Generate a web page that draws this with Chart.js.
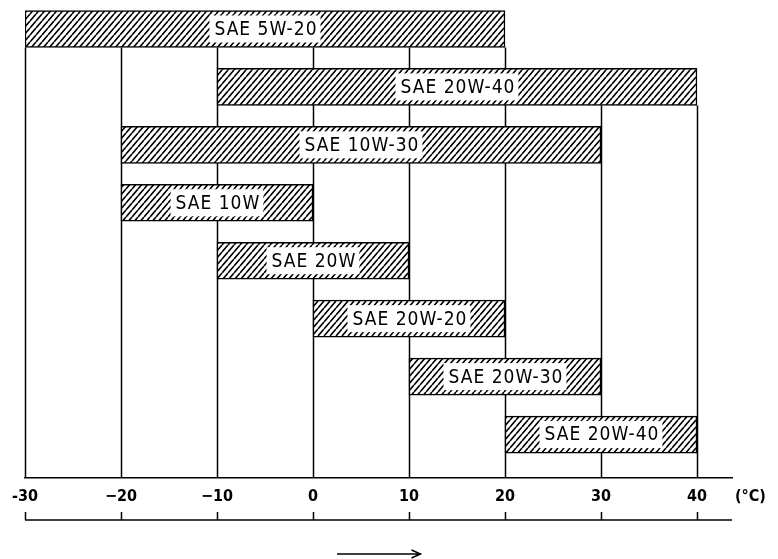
<!DOCTYPE html>
<html>
<head>
<meta charset="utf-8">
<script src="https://cdn.jsdelivr.net/npm/chart.js@4.4.0/dist/chart.umd.min.js"></script>
<style>
  html, body { margin: 0; padding: 0; background: #fff; }
  #wrap { width: 778px; height: 559px; }
</style>
</head>
<body>
<div id="wrap"><canvas id="oilChart" width="778" height="559"></canvas></div>
<script>
// oil grades, top row first, with usable temperature range in degC
const grades = ['SAE 5W-20', 'SAE 20W-40', 'SAE 10W-30', 'SAE 10W', 'SAE 20W', 'SAE 20W-20', 'SAE 20W-30', 'SAE 20W-40'];
const tempFrom = [-30, -10, -20, -20, -10, 0, 10, 20];
const tempTo = [20, 40, 30, 0, 10, 20, 30, 40];
const tempTicks = [-30, -20, -10, 0, 10, 20, 30, 40];
const tickLabels = ['-30', '\u221220', '\u221210', '0', '10', '20', '30', '40'];
const unitLabel = '(\u00b0C)';

const condensed = '"DejaVu Sans Condensed", "DejaVu Sans", sans-serif';

function hatch() {
    const w = 6, h = 7;
    const c = document.createElement('canvas');
    c.width = w; c.height = h;
    const p = c.getContext('2d');
    p.fillStyle = '#fff';
    p.fillRect(0, 0, w, h);
    p.strokeStyle = '#000';
    p.lineWidth = 1.6;
    p.beginPath();
    for (let k = -1; k <= 1; k++) {
        p.moveTo(k * w, h);
        p.lineTo(k * w + w, 0);
    }
    p.stroke();
    return p.createPattern(c, 'repeat');
}

// vertical lines hang down from the first bar that covers each tick
const gridFromBars = {
    id: 'gridFromBars',
    beforeDatasetsDraw(chart) {
        const ctx = chart.ctx;
        const x = chart.scales.x;
        const bars = chart.getDatasetMeta(0).data;
        ctx.save();
        ctx.strokeStyle = '#000';
        ctx.lineWidth = 1.5;
        tempTicks.forEach(t => {
            const i = tempFrom.findIndex((s, k) => s <= t && t <= tempTo[k]);
            if (i < 0) return;
            const top = bars[i].y + bars[i].height / 2;
            const px = Math.round(x.getPixelForValue(t)) + 0.5;
            ctx.beginPath();
            ctx.moveTo(px, top);
            ctx.lineTo(px, chart.chartArea.bottom);
            ctx.stroke();
        });
        ctx.restore();
    }
};

const barLabels = {
    id: 'barLabels',
    afterDatasetsDraw(chart) {
        const ctx = chart.ctx;
        const bars = chart.getDatasetMeta(0).data;
        ctx.save();
        ctx.font = '19px ' + condensed;
        ctx.letterSpacing = '1px';
        ctx.textAlign = 'center';
        ctx.textBaseline = 'middle';
        bars.forEach((b, i) => {
            const cx = (b.x + b.base) / 2;
            const tw = ctx.measureText(grades[i]).width;
            ctx.fillStyle = '#fff';
            ctx.fillRect(cx - tw / 2 - 4, b.y - b.height / 2 + 5, tw + 8, b.height - 10);
            ctx.fillStyle = '#000';
            ctx.fillText(grades[i], cx + 1, b.y + 1);
        });
        ctx.restore();
    }
};

// second scale line, unit label and arrow under the axis
const lowerScale = {
    id: 'lowerScale',
    afterDraw(chart) {
        const ctx = chart.ctx;
        const x = chart.scales.x;
        const area = chart.chartArea;
        const y2 = 520;
        ctx.save();
        ctx.strokeStyle = '#000';
        ctx.lineWidth = 1.5;
        ctx.beginPath();
        ctx.moveTo(area.left, y2);
        ctx.lineTo(area.right, y2);
        tempTicks.forEach(t => {
            const px = Math.round(x.getPixelForValue(t)) + 0.5;
            ctx.moveTo(px, y2);
            ctx.lineTo(px, y2 - 8);
        });
        ctx.stroke();

        ctx.fillStyle = '#000';
        ctx.font = 'bold 16px ' + condensed;
        ctx.textAlign = 'left';
        ctx.textBaseline = 'middle';
        ctx.fillText(unitLabel, area.right + 3, 497);

        const a0 = x.getPixelForValue(2.5), a1 = x.getPixelForValue(11.2);
        ctx.beginPath();
        ctx.moveTo(a0, 554);
        ctx.lineTo(a1, 554);
        ctx.moveTo(a1 - 9, 550);
        ctx.lineTo(a1, 554);
        ctx.lineTo(a1 - 9, 558);
        ctx.stroke();
        ctx.restore();
    }
};

const oilCtx = document.getElementById('oilChart').getContext('2d');
const oilChart = new Chart(oilCtx, {
    type: 'bar',
    data: {
        datasets: [{
            label: 'Temperature range',
            data: grades.map((g, i) => ({ x: [tempFrom[i], tempTo[i]], y: i })),
            backgroundColor: hatch(),
            borderColor: '#000',
            borderWidth: 1.5,
            borderSkipped: false,
            barThickness: 37
        }]
    },
    options: {
        indexAxis: 'y',
        responsive: false,
        animation: false,
        events: [],
        layout: { padding: { left: 25, right: 46, top: 0, bottom: 0 } },
        plugins: {
            legend: { display: false },
            tooltip: { enabled: false }
        },
        scales: {
            x: {
                type: 'linear',
                min: -30,
                max: 43.65,
                afterBuildTicks(scale) {
                    scale.ticks = tempTicks.map(v => ({ value: v }));
                },
                afterFit(scale) { scale.height = 81; },
                grid: { display: false, drawTicks: false },
                border: { display: true, color: '#000', width: 1.5 },
                ticks: {
                    padding: 9,
                    color: '#000',
                    font: { family: condensed, size: 16, weight: 'bold' },
                    maxRotation: 0,
                    autoSkip: false,
                    callback: (v, i) => tickLabels[i]
                }
            },
            y: {
                type: 'linear',
                reverse: true,
                offset: false,
                min: -0.5,
                max: 7.75,
                display: false
            }
        }
    },
    plugins: [gridFromBars, barLabels, lowerScale]
});
</script>
</body>
</html>
